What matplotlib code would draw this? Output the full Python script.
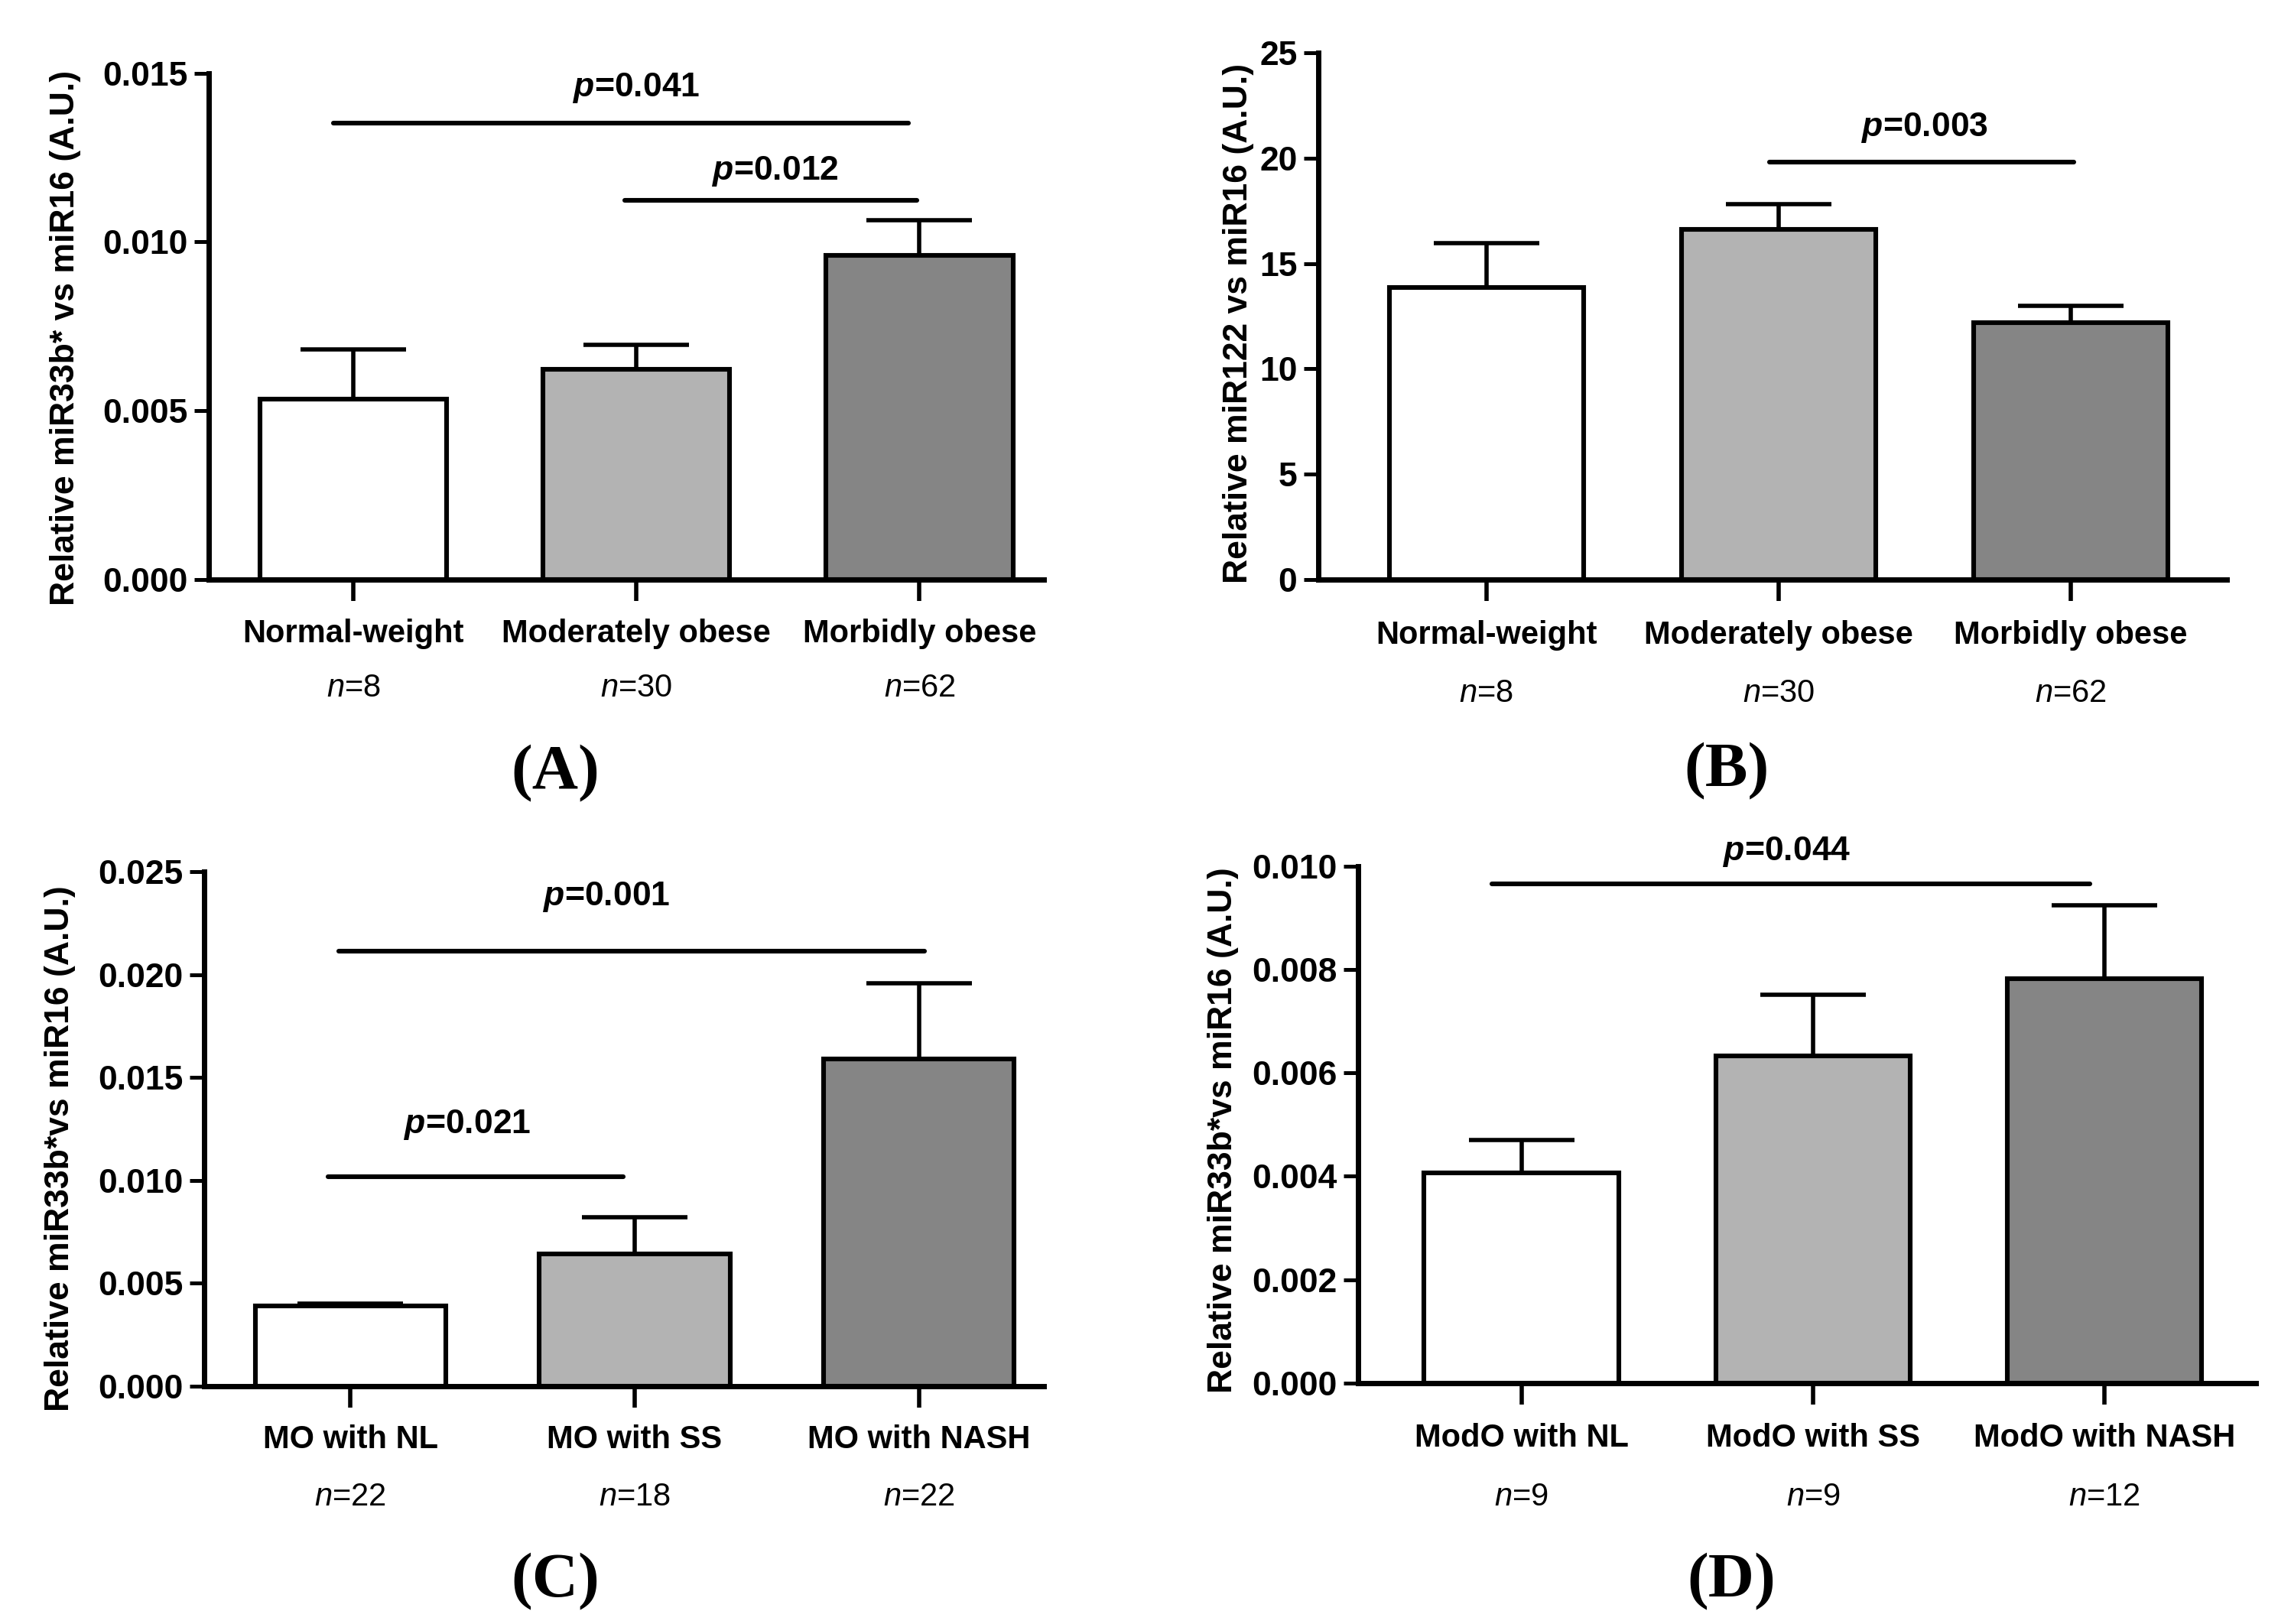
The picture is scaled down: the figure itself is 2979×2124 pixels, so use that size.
import matplotlib
matplotlib.use('Agg')
from matplotlib import pyplot as plt
from matplotlib import transforms
import numpy as np

plt.rcParams['font.family'] = ['Liberation Sans', 'DejaVu Sans']
plt.rcParams['mathtext.fontset'] = 'custom'
plt.rcParams['mathtext.rm'] = 'Liberation Sans'
plt.rcParams['mathtext.it'] = 'Liberation Sans:italic'
plt.rcParams['mathtext.bfit'] = 'Liberation Sans:italic:bold'

# data
groups_ab = ['Normal-weight', 'Moderately obese', 'Morbidly obese']
n_ab = [8, 30, 62]
groups_c = ['MO with NL', 'MO with SS', 'MO with NASH']
n_c = [22, 18, 22]
groups_d = ['ModO with NL', 'ModO with SS', 'ModO with NASH']
n_d = [9, 9, 12]

mir33_ab = [0.00535, 0.00622, 0.0096]
mir33_ab_sem = [0.00148, 0.00074, 0.00105]
mir122_ab = [13.85, 16.6, 12.18]
mir122_ab_sem = [2.1, 1.2, 0.82]
mir33_c = [0.0039, 0.00642, 0.0159]
mir33_c_sem = [0.00012, 0.0018, 0.0037]
mir33_d = [0.00407, 0.00633, 0.00782]
mir33_d_sem = [0.00063, 0.00118, 0.00142]

colors = ['white', '#b3b3b3', '#858585']

fig = plt.figure(figsize=(2979 / 200, 2124 / 200), dpi=200)


def panel(rect, xlim, ylim, yticks, ylabels, vals, sems, width, groups, ns,
          ylabel, ylabel_xy, cat_y, n_y, letter, letter_xy, sig):
    ax = fig.add_axes(rect)
    x = np.arange(len(vals))
    ax.bar(x, vals, width=width, color=colors, edgecolor='black',
           linewidth=2.2, zorder=2)
    ax.errorbar(x, vals, yerr=[np.zeros(len(vals)), sems], fmt='none',
                ecolor='black', elinewidth=2, capsize=25, capthick=2, zorder=1)
    ax.set_xlim(*xlim)
    ax.set_ylim(*ylim)
    ax.set_yticks(yticks)
    ax.set_yticklabels(ylabels, fontsize=16, fontweight='bold')
    ax.set_xticks(x)
    ax.set_xticklabels([])
    for s in ['top', 'right']:
        ax.spines[s].set_visible(False)
    for s in ['left', 'bottom']:
        ax.spines[s].set_linewidth(2.5)
    ax.tick_params(axis='y', direction='out', length=7, width=1.8, pad=3)
    ax.tick_params(axis='x', direction='out', length=10, width=2)
    tr = transforms.blended_transform_factory(ax.transData, fig.transFigure)
    for i, (g, n) in enumerate(zip(groups, ns)):
        ax.text(i, cat_y, g, transform=tr, ha='center', va='center',
                fontsize=15, fontweight='bold')
        ax.text(i, n_y, r'$\mathit{n}$=%d' % n, transform=tr, ha='center',
                va='center', fontsize=15)
    for x0, x1, yl, xt, yt, lab in sig:
        ax.plot([x0, x1], [yl, yl], color='black', lw=2.2,
                solid_capstyle='round', clip_on=False)
        ax.text(xt, yt, r'$\mathbfit{p}$=' + lab, ha='center', va='center',
                fontsize=16, fontweight='bold')
    fig.text(ylabel_xy[0], ylabel_xy[1], ylabel, rotation=90, ha='center',
             va='center', fontsize=16, fontweight='bold')
    fig.text(letter_xy[0], letter_xy[1], letter, ha='center', va='center',
             fontsize=30, fontweight='bold', family='Liberation Serif')
    return ax


panel([0.0917, 0.643, 0.3666, 0.312], (-0.51, 2.44), (0, 0.015),
      [0, 0.005, 0.010, 0.015], ['0.000', '0.005', '0.010', '0.015'],
      mir33_ab, mir33_ab_sem, 0.66, groups_ab, n_ab,
      'Relative miR33b* vs miR16 (A.U.)', (0.0288, 0.792), 0.6097, 0.5765,
      '(A)', (0.2437, 0.5235),
      [(-0.07, 1.96, 0.01353, 1.0, 0.01457, '0.041'),
       (0.96, 1.99, 0.01124, 1.49, 0.0121, '0.012')])

panel([0.5788, 0.643, 0.3988, 0.3246], (-0.575, 2.535), (0, 25),
      [0, 5, 10, 15, 20, 25], ['0', '5', '10', '15', '20', '25'],
      mir122_ab, mir122_ab_sem, 0.665, groups_ab, n_ab,
      'Relative miR122 vs miR16 (A.U.)', (0.5436, 0.801), 0.6088, 0.5728,
      '(B)', (0.758, 0.525),
      [(0.97, 2.01, 19.8, 1.5, 21.45, '0.003')])

panel([0.0897, 0.1466, 0.3686, 0.3165], (-0.514, 2.44), (0, 0.025),
      [0, 0.005, 0.010, 0.015, 0.020, 0.025],
      ['0.000', '0.005', '0.010', '0.015', '0.020', '0.025'],
      mir33_c, mir33_c_sem, 0.67, groups_c, n_c,
      'Relative miR33b*vs miR16 (A.U.)', (0.0263, 0.293), 0.1133, 0.0782,
      '(C)', (0.2437, 0.026),
      [(-0.04, 2.02, 0.02116, 0.9, 0.0238, '0.001'),
       (-0.08, 0.96, 0.01016, 0.41, 0.01271, '0.021')])

panel([0.5962, 0.1484, 0.3942, 0.3183], (-0.56, 2.52), (0, 0.010),
      [0, 0.002, 0.004, 0.006, 0.008, 0.010],
      ['0.000', '0.002', '0.004', '0.006', '0.008', '0.010'],
      mir33_d, mir33_d_sem, 0.667, groups_d, n_d,
      'Relative miR33b*vs miR16 (A.U.)', (0.537, 0.304), 0.1142, 0.0782,
      '(D)', (0.760, 0.026),
      [(-0.10, 1.95, 0.00966, 0.91, 0.01028, '0.044')])

fig.savefig('out.png', dpi=200)
